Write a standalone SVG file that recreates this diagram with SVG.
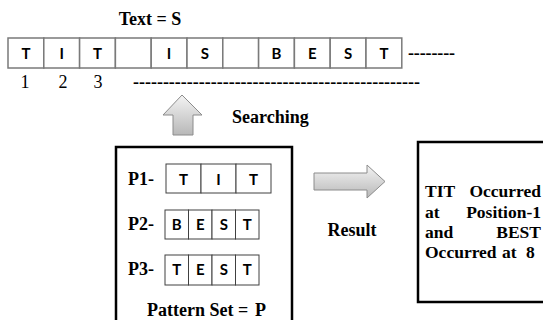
<svg xmlns="http://www.w3.org/2000/svg" width="543" height="320" viewBox="0 0 543 320">
  <defs>
    <style>
      .serif { font-family: "Liberation Serif", "Times New Roman", serif; font-weight: bold; font-size: 18px; fill: #000; }
      .res { font-size: 17.5px; }
      .num { font-family: "Liberation Serif", "Times New Roman", serif; font-size: 18px; fill: #000; }
      .cell { fill: #fff; stroke: #7a7a7a; stroke-width: 1.5; }
      .pcell { fill: #fff; stroke: #404040; stroke-width: 1; }
      .ch { font-family: Lato, "Open Sans", "Liberation Sans", sans-serif; font-weight: bold; font-size: 15px; fill: #000; text-anchor: middle; }
      .box { fill: #fff; stroke: #000; stroke-width: 2.5; }
      .arrow { fill: url(#arrowFill); stroke: #8c8c8c; stroke-width: 1; }
    </style>
    <linearGradient id="arrowFill" x1="0" y1="0" x2="0" y2="1">
      <stop offset="0" stop-color="#f4f4f4"/>
      <stop offset="1" stop-color="#b8b8b8"/>
    </linearGradient>
  </defs>
  <rect width="543" height="320" fill="#fff"/>

  <!-- text string -->
  <g id="text-string">
    <text class="serif" x="150" y="25" text-anchor="middle">Text = S</text>
    <rect class="cell" x="8" y="38" width="35.8" height="30"/>
    <rect class="cell" x="43.8" y="38" width="35.8" height="30"/>
    <rect class="cell" x="79.6" y="38" width="35.8" height="30"/>
    <rect class="cell" x="115.4" y="38" width="35.8" height="30"/>
    <rect class="cell" x="151.2" y="38" width="35.8" height="30"/>
    <rect class="cell" x="187" y="38" width="35.8" height="30"/>
    <rect class="cell" x="222.8" y="38" width="35.8" height="30"/>
    <rect class="cell" x="258.6" y="38" width="35.8" height="30"/>
    <rect class="cell" x="294.4" y="38" width="35.8" height="30"/>
    <rect class="cell" x="330.2" y="38" width="35.8" height="30"/>
    <rect class="cell" x="366" y="38" width="35.8" height="30"/>
    <text class="ch" x="25.9" y="58.5">T</text>
    <text class="ch" x="61.7" y="58.5">I</text>
    <text class="ch" x="97.5" y="58.5">T</text>
    <text class="ch" x="169.1" y="58.5">I</text>
    <text class="ch" x="204.9" y="58.5">S</text>
    <text class="ch" x="276.5" y="58.5">B</text>
    <text class="ch" x="312.3" y="58.5">E</text>
    <text class="ch" x="348.1" y="58.5">S</text>
    <text class="ch" x="383.9" y="58.5">T</text>
    <text class="serif" x="408" y="59" textLength="47" lengthAdjust="spacing">--------</text>
    <text class="num" x="25" y="88" text-anchor="middle">1</text>
    <text class="num" x="63" y="88" text-anchor="middle">2</text>
    <text class="num" x="98" y="88" text-anchor="middle">3</text>
    <text class="serif" x="133" y="88" textLength="287" lengthAdjust="spacing">------------------------------------------------</text>
  </g>

  <!-- connectors -->
  <g id="connectors">
    <polygon class="arrow" points="182,95 202,115 193,115 193,135 173,135 173,115 163,115"/>
    <text class="serif" x="232" y="123">Searching</text>
    <polygon class="arrow" points="314,173 367,173 367,165 385,181.5 367,198 367,190 314,190"/>
    <text class="serif" x="352" y="236" text-anchor="middle">Result</text>
  </g>

  <!-- pattern set -->
  <g id="pattern-set">
    <rect class="box" x="116" y="147" width="176" height="190"/>
    <text class="serif" x="128" y="185">P1-</text>
    <rect class="pcell" x="166" y="164" width="35" height="29"/>
    <rect class="pcell" x="201" y="164" width="35" height="29"/>
    <rect class="pcell" x="236" y="164" width="35" height="29"/>
    <text class="ch" x="183.5" y="185">T</text>
    <text class="ch" x="218.5" y="185">I</text>
    <text class="ch" x="253.5" y="185">T</text>

    <text class="serif" x="128" y="230">P2-</text>
    <rect class="pcell" x="165" y="210" width="23.5" height="29"/>
    <rect class="pcell" x="188.5" y="210" width="23.5" height="29"/>
    <rect class="pcell" x="212" y="210" width="23.5" height="29"/>
    <rect class="pcell" x="235.5" y="210" width="23.5" height="29"/>
    <text class="ch" x="176.75" y="230">B</text>
    <text class="ch" x="200.25" y="230">E</text>
    <text class="ch" x="223.75" y="230">S</text>
    <text class="ch" x="247.25" y="230">T</text>

    <text class="serif" x="128" y="275">P3-</text>
    <rect class="pcell" x="165" y="255" width="23.5" height="30"/>
    <rect class="pcell" x="188.5" y="255" width="23.5" height="30"/>
    <rect class="pcell" x="212" y="255" width="23.5" height="30"/>
    <rect class="pcell" x="235.5" y="255" width="23.5" height="30"/>
    <text class="ch" x="176.75" y="275">T</text>
    <text class="ch" x="200.25" y="275">E</text>
    <text class="ch" x="223.75" y="275">S</text>
    <text class="ch" x="247.25" y="275">T</text>

    <text class="serif" x="147" y="316">Pattern Set =</text>
    <text class="serif" x="255" y="316">P</text>
  </g>

  <!-- result -->
  <g id="result">
    <rect class="box" x="418" y="142" width="140" height="160"/>
    <text class="serif res" x="425" y="197">TIT</text>
    <text class="serif res" x="541" y="197" text-anchor="end">Occurred</text>
    <text class="serif res" x="425" y="217.5">at</text>
    <text class="serif res" x="541" y="217.5" text-anchor="end">Position-1</text>
    <text class="serif res" x="425" y="238">and</text>
    <text class="serif res" x="541" y="238" text-anchor="end">BEST</text>
    <text class="serif res" x="425" y="258">Occurred</text>
    <text class="serif res" x="502" y="258">at</text>
    <text class="serif res" x="526" y="258">8</text>
  </g>
</svg>
